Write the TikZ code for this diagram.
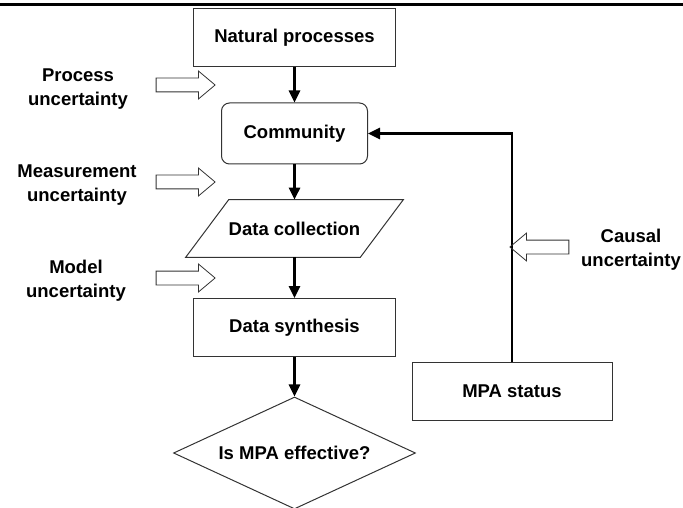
\documentclass[tikz,border=0pt]{standalone}
\usepackage{fontspec}
\setmainfont{Liberation Sans}
\usetikzlibrary{shapes.geometric}
\usetikzlibrary{shapes.arrows}
\usetikzlibrary{arrows.meta}
\tikzset{
	fc_node/.style = {align=center, inner sep=0pt, text centered,
		font=\fontsize{18.5}{24}\selectfont\bfseries},
	fc_box/.style = {fc_node, rectangle, draw=black!80, line width=1pt,
		minimum width=202pt, minimum height=58pt},% bloc de traitement
	fc_rnd/.style = {fc_box, rounded corners=8pt,
		minimum width=146pt, minimum height=61pt},% bloc arrondi
	fc_dia/.style = {fc_node, diamond, draw=black!80, line width=1pt,
		aspect=2.16, minimum width=242pt, minimum height=112pt},% decision
	fc_unc/.style = {single arrow, draw=black!80, line width=0.8pt,
		inner sep=6.5pt, minimum height=59pt, minimum width=27pt,
		single arrow head extend=7pt, single arrow tip angle=80,
		single arrow head indent=0pt},% fleche creuse, incertitude
	fc_lbl/.style = {fc_node}% etiquette
}
\begin{document}
\begin{tikzpicture}[->,>={Triangle[length=12pt,width=11pt]},
		line width=2.6pt, x=1pt, y=-1pt]
	\useasboundingbox (0,0) rectangle (683,508);
	\draw[-, line width=3pt] (0,5) -- (683,5);
	% chaine principale
	\node[fc_box] (nat) at (294.5,37.5) {Natural processes};
	\node[fc_rnd] (comm) at (294.5,133.5) {Community};
	\node[fc_node, minimum width=172pt, minimum height=55pt] (dcol)
		at (294.5,228.5) {Data collection};
	\draw[-, line width=1pt, draw=black!80]
		([xshift=21.5pt]dcol.north west) -- ([xshift=21.5pt]dcol.north east)
		-- ([xshift=-21.5pt]dcol.south east) -- ([xshift=-21.5pt]dcol.south west)
		-- cycle;
	\node[fc_box] (dsyn) at (294.5,327.5) {Data synthesis};
	\node[fc_dia] (eff) at (294.5,453) {Is MPA effective?};
	\node[fc_box, minimum width=200pt] (mpa) at (512,391.5) {MPA status};
	\draw (nat) -- (comm);
	\draw (comm) -- (dcol);
	\draw (dcol) -- (dsyn);
	\draw (dsyn) -- (eff);
	\draw (mpa.north) |- (comm.east);
	% incertitudes
	\node[fc_unc] (punc) at (181.5,85) {};
	\node[fc_unc] (munc) at (181.5,182) {};
	\node[fc_unc] (dunc) at (181.5,278) {};
	\node[fc_unc, shape border rotate=180] (cunc) at (543.5,247) {};
	\node[fc_lbl] (plab) at (78,89) {Process\\uncertainty};
	\node[fc_lbl] (mlab) at (77,185) {Measurement\\uncertainty};
	\node[fc_lbl] (dlab) at (76,281) {Model\\uncertainty};
	\node[fc_lbl] (clab) at (631,250) {Causal\\uncertainty};
\end{tikzpicture}
\end{document}
